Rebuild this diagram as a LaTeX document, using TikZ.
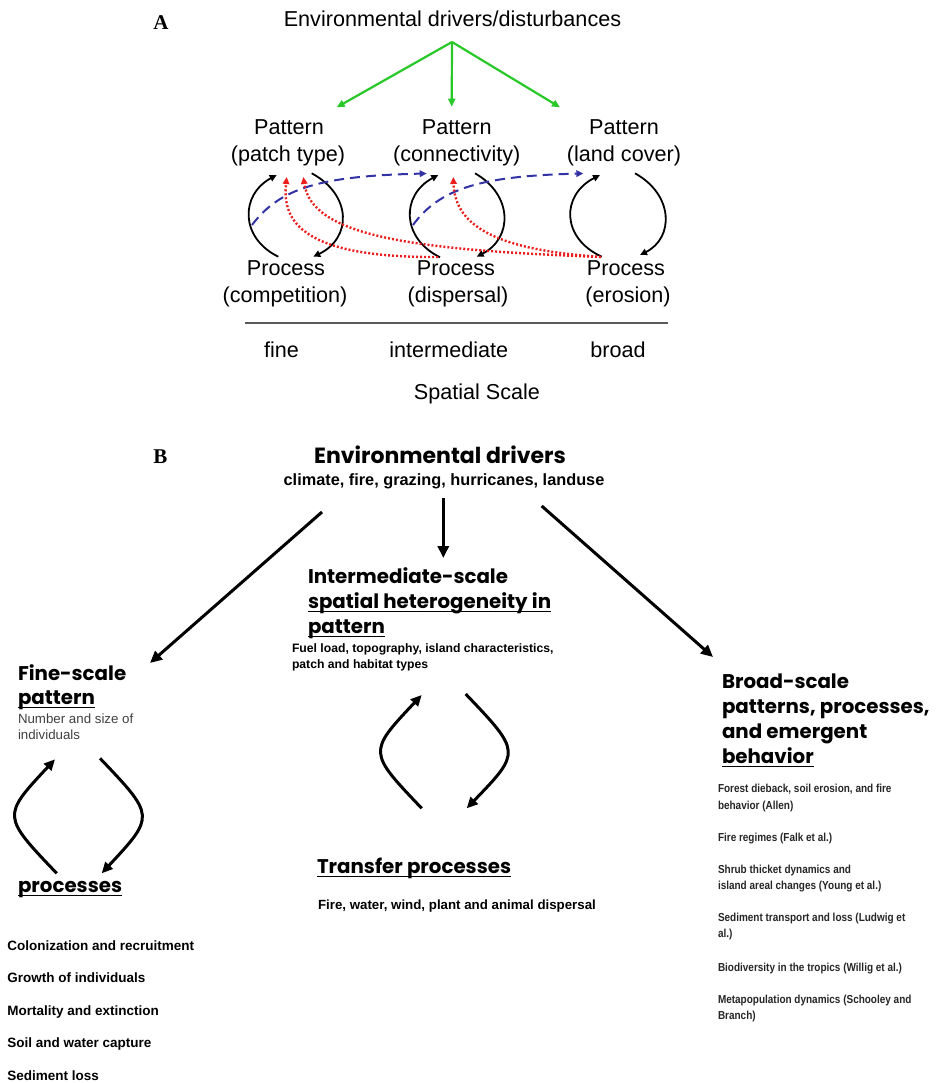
\documentclass[tikz,border=0pt]{standalone}
\usepackage{fontspec}
\setmainfont{Liberation Sans}
\newfontfamily\comic{Poppins}
\newfontfamily\timesf{Liberation Serif}
\newfontfamily\condsans{Liberation Sans}[FakeStretch=0.86]
\usetikzlibrary{arrows.meta}
\definecolor{grn}{RGB}{40,200,40}
\definecolor{blu}{RGB}{50,50,165}
\definecolor{rdd}{RGB}{235,30,30}
\newcommand\myul[1]{\setbox0=\hbox{#1}\rlap{\vrule height -2.6pt depth 4.2pt width \wd0}\box0}
\begin{document}
\begin{tikzpicture}[x=1pt,y=-1pt,
  every node/.style={inner sep=0pt, outer sep=0pt},
  lblA/.style={font=\fontsize{21.6}{26}\selectfont, anchor=base},
  panel/.style={font=\timesf\bfseries\fontsize{21}{24}\selectfont, anchor=base},
  head/.style={font=\comic\bfseries\fontsize{19.8}{24}\selectfont, anchor=base west},
  subB/.style={font=\bfseries\fontsize{13.5}{16}\selectfont, anchor=base west},
  subR/.style={font=\condsans\bfseries\fontsize{11.6}{13}\selectfont, anchor=base west, text=black!85},
  subN/.style={font=\fontsize{13.3}{16}\selectfont, anchor=base west, text=black!75},
  cycA/.style={line width=1.8pt, -{Triangle[length=7pt,width=6.5pt]}},
  cycB/.style={line width=3pt, -{Triangle[length=11pt,width=10pt]}},
  bigarr/.style={line width=3pt, -{Triangle[length=12pt,width=11pt]}},
  grarr/.style={grn, line width=2.2pt, -{Triangle[length=8pt,width=7pt]}},
  bluarr/.style={blu, line width=2pt, dash pattern=on 10pt off 6pt, -{Triangle[length=7pt,width=6.5pt]}},
  redarr/.style={rdd, line width=2.4pt, dash pattern=on 2pt off 2pt, -{Triangle[length=7pt,width=6.5pt]}},
]
\useasboundingbox (0,0) rectangle (938,1083);

%% ---------------- Panel A ----------------
\node[panel] (A) at (161,30) {A};
\node[lblA] (title) at (452.5,27) {Environmental drivers/disturbances};
\node[lblA] (p1a) at (289,135) {Pattern};
\node[lblA] (p1b) at (288,162) {(patch type)};
\node[lblA] (p2a) at (456.7,135) {Pattern};
\node[lblA] (p2b) at (456.7,162) {(connectivity)};
\node[lblA] (p3a) at (624,135) {Pattern};
\node[lblA] (p3b) at (624,162) {(land cover)};
\node[lblA] (q1a) at (286,275) {Process};
\node[lblA] (q1b) at (285,302) {(competition)};
\node[lblA] (q2a) at (456,275) {Process};
\node[lblA] (q2b) at (458,302) {(dispersal)};
\node[lblA] (q3a) at (626,275) {Process};
\node[lblA] (q3b) at (628,302) {(erosion)};
\coordinate (axL) at (245,323);
\coordinate (axR) at (668,323);
\draw[black!65, line width=1.3pt] (axL) -- (axR);
\node[lblA] (fine) at (281.5,357) {fine};
\node[lblA] (inter) at (448.8,357) {intermediate};
\node[lblA] (broad) at (618,357) {broad};
\node[lblA] (ss) at (477,399) {Spatial Scale};

% green arrows
\coordinate (g0) at (452,42);
\coordinate (g1) at (336.7,107.3);
\coordinate (g2) at (451.7,106.7);
\coordinate (g3) at (560,107.3);
\draw[grarr] (g0) -- (g1);
\draw[grarr] (g0) -- (g2);
\draw[grarr] (g0) -- (g3);

% cycle arrows in A
\coordinate (c1b) at (278.3,256.7); \coordinate (c1t) at (276.7,175);
\coordinate (d1t) at (311.7,173.3); \coordinate (d1b) at (313.3,256.7);
\coordinate (c2b) at (440,257.3); \coordinate (c2t) at (438.3,175);
\coordinate (d2t) at (475,173.3); \coordinate (d2b) at (476.7,256.7);
\coordinate (c3b) at (601.7,256.7); \coordinate (c3t) at (600,175);
\coordinate (d3t) at (635,173.3); \coordinate (d3b) at (640,255);
\draw[cycA] (c1b) .. controls (240,238) and (240,195) .. (c1t);
\draw[cycA] (d1t) .. controls (352,195) and (352,238) .. (d1b);
\draw[cycA] (c2b) .. controls (401,238) and (401,195) .. (c2t);
\draw[cycA] (d2t) .. controls (513,195) and (513,238) .. (d2b);
\draw[cycA] (c3b) .. controls (561,238) and (561,195) .. (c3t);
\draw[cycA] (d3t) .. controls (674,195) and (674,238) .. (d3b);

% blue dashed
\coordinate (b1s) at (252,225); \coordinate (b1e) at (426.7,173.5);
\coordinate (b2s) at (413,225); \coordinate (b2e) at (583.3,173.5);
\draw[bluarr] (b1s) .. controls (280,188) and (320,176) .. (b1e);
\draw[bluarr] (b2s) .. controls (440,188) and (482,176) .. (b2e);

% red dotted
\coordinate (r1s) at (438,257); \coordinate (r1e) at (286.7,177);
\coordinate (r2s) at (601,257); \coordinate (r2e) at (303.3,177);
\coordinate (r3s) at (601,257); \coordinate (r3e) at (453.3,177);
\draw[redarr] (r1s) .. controls (292,258) and (283,215) .. (r1e);
\draw[redarr] (r2s) .. controls (420,250) and (312,238) .. (r2e);
\draw[redarr] (r3s) .. controls (500,250) and (455,228) .. (r3e);

%% ---------------- Panel B ----------------
\node[panel] (B) at (160.5,463) {B};
\node[head, anchor=base, font=\comic\bfseries\fontsize{22}{24}\selectfont] (ed) at (440,463) {Environmental drivers};
\node[subB, anchor=base, font=\bfseries\fontsize{16.3}{18}\selectfont] (edsub) at (444,485) {climate, fire, grazing, hurricanes, landuse};

\coordinate (aL0) at (322,512); \coordinate (aL1) at (150,663);
\coordinate (aM0) at (443.3,498); \coordinate (aM1) at (443.3,558);
\coordinate (aR0) at (541.7,506); \coordinate (aR1) at (713,657);
\draw[bigarr] (aL0) -- (aL1);
\draw[bigarr] (aM0) -- (aM1);
\draw[bigarr] (aR0) -- (aR1);

% intermediate
\node[head] (im1) at (308,583) {Intermediate-scale};
\node[head] (im2) at (308,608) {\myul{spatial heterogeneity in}};
\node[head] (im3) at (308,633) {\myul{pattern}};
\node[subB, font=\bfseries\fontsize{12.2}{14}\selectfont] (im4) at (292,652) {Fuel load, topography, island characteristics,};
\node[subB, font=\bfseries\fontsize{12.2}{14}\selectfont] (im5) at (292,668) {patch and habitat types};

\coordinate (m1b) at (421.7,808.3); \coordinate (m1t) at (421.7,695);
\coordinate (m2t) at (465.7,694); \coordinate (m2b) at (466.7,808.3);
\draw[cycB] (m1b) .. controls (368,752) and (368,752) .. (m1t);
\draw[cycB] (m2t) .. controls (521,752) and (521,752) .. (m2b);

\node[head] (tp) at (317,873) {\myul{Transfer processes}};
\node[subB, font=\bfseries\fontsize{13.3}{16}\selectfont] (tpsub) at (318,909) {Fire, water, wind, plant and animal dispersal};

% fine scale
\node[head] (fs1) at (18,680) {Fine-scale};
\node[head] (fs2) at (18,704) {\myul{pattern}};
\node[subN] (fs3) at (18,723) {Number and size of};
\node[subN] (fs4) at (18,739) {individuals};

\coordinate (f1b) at (56.7,873.3); \coordinate (f1t) at (55,759.3);
\coordinate (f2t) at (100,758.3); \coordinate (f2b) at (101.7,873.3);
\draw[cycB] (f1b) .. controls (2,816) and (2,816) .. (f1t);
\draw[cycB] (f2t) .. controls (155,816) and (155,816) .. (f2b);

\node[head] (pr) at (18,892) {\myul{processes}};
\node[subB] (l1) at (7.3,950) {Colonization and recruitment};
\node[subB] (l2) at (7.3,982.5) {Growth of individuals};
\node[subB] (l3) at (7.3,1015) {Mortality and extinction};
\node[subB] (l4) at (7.3,1047.5) {Soil and water capture};
\node[subB] (l5) at (7.3,1080) {Sediment loss};

% broad scale
\node[head] (bs1) at (722,688) {Broad-scale};
\node[head] (bs2) at (722,713) {patterns, processes,};
\node[head] (bs3) at (722,738) {and emergent};
\node[head] (bs4) at (722,763) {\myul{behavior}};
\node[subR] (r1) at (718,792.7) {Forest dieback, soil erosion, and fire};
\node[subR] (r1b) at (718,809.3) {behavior (Allen)};
\node[subR] (r2) at (718,841.7) {Fire regimes (Falk et al.)};
\node[subR] (r3) at (718,873.3) {Shrub thicket dynamics and};
\node[subR] (r3b) at (718,889.3) {island areal changes (Young et al.)};
\node[subR] (r4) at (718,921.7) {Sediment transport and loss (Ludwig et};
\node[subR] (r4b) at (718,937.7) {al.)};
\node[subR] (r5) at (718,971.7) {Biodiversity in the tropics (Willig et al.)};
\node[subR] (r6) at (718,1003.3) {Metapopulation dynamics (Schooley and};
\node[subR] (r6b) at (718,1019.3) {Branch)};
\end{tikzpicture}
\end{document}
